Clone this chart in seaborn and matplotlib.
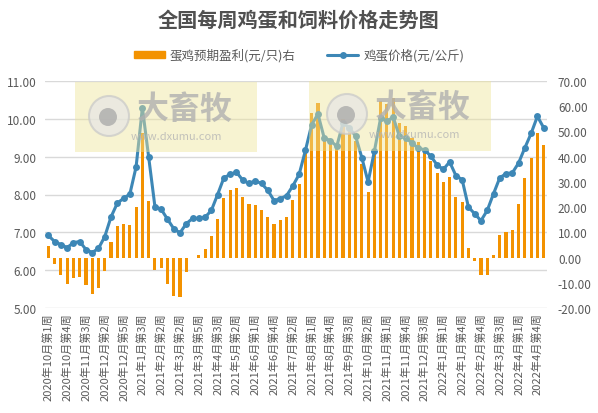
import numpy as np
import pandas as pd
import seaborn as sns
import matplotlib
matplotlib.use("Agg")
import matplotlib.pyplot as plt
from matplotlib.patches import Rectangle, Ellipse, Patch
from matplotlib.lines import Line2D

# (year, month, first week, last week)
months = [
    (2020, 10, 1, 4), (2020, 11, 1, 4), (2020, 12, 1, 5),
    (2021, 1, 1, 4), (2021, 2, 1, 3), (2021, 3, 1, 5), (2021, 4, 1, 4),
    (2021, 5, 1, 4), (2021, 6, 1, 5), (2021, 7, 1, 4), (2021, 8, 1, 4),
    (2021, 9, 1, 4), (2021, 10, 1, 4), (2021, 11, 1, 4), (2021, 12, 1, 5),
    (2022, 1, 1, 4), (2022, 2, 2, 4), (2022, 3, 1, 5), (2022, 4, 1, 4),
    (2022, 5, 1, 1),
]
weeks = [f"{y}年{m}月第{w}周" for y, m, a, b in months for w in range(a, b + 1)]

egg_price = [
    6.92, 6.76, 6.68, 6.60, 6.73, 6.76, 6.55, 6.47, 6.58, 6.89,
    7.41, 7.77, 7.90, 8.01, 8.73, 10.29, 8.99, 7.68, 7.61, 7.35,
    7.10, 6.99, 7.23, 7.37, 7.37, 7.40, 7.58, 8.00, 8.44, 8.53,
    8.59, 8.38, 8.29, 8.36, 8.29, 8.11, 7.84, 7.89, 7.97, 8.23,
    8.53, 9.16, 9.84, 10.12, 9.49, 9.42, 9.27, 9.89, 9.76, 9.54,
    8.97, 8.33, 9.14, 10.02, 9.93, 10.04, 9.53, 9.49, 9.36, 9.22,
    9.18, 9.01, 8.78, 8.66, 8.86, 8.50, 8.39, 7.67, 7.49, 7.31,
    7.58, 8.02, 8.44, 8.55, 8.57, 8.83, 9.23, 9.61, 10.06, 9.76,
]

hen_profit = [
    4.7, -2.4, -6.7, -10.3, -7.9, -7.5, -10.7, -14.2, -11.8, -5.1,
    6.3, 12.6, 13.3, 12.9, 20.1, 49.5, 22.4, -4.7, -3.9, -10.5,
    -15.0, -15.4, -5.5, 0.0, 1.2, 3.4, 8.7, 15.3, 23.7, 26.8,
    27.5, 24.0, 21.2, 20.8, 18.8, 16.1, 13.3, 14.9, 16.1, 22.9,
    29.1, 42.5, 57.1, 61.3, 47.1, 46.2, 44.9, 55.0, 52.1, 46.2,
    37.0, 25.8, 42.2, 62.0, 60.7, 63.3, 53.2, 51.9, 47.5, 45.8,
    41.9, 38.3, 33.4, 29.9, 31.9, 24.1, 22.1, 3.8, -1.3, -6.7,
    -6.7, 1.1, 9.1, 10.0, 10.9, 21.2, 31.5, 39.4, 49.2, 44.5,
]

df = pd.DataFrame({"week": weeks, "price": egg_price, "profit": hen_profit})
df["idx"] = np.arange(len(df))

sns.set_theme(style="white")
plt.rcParams["font.family"] = ["Noto Sans CJK SC", "DejaVu Sans"]
plt.rcParams["axes.unicode_minus"] = False

BAR = "#f39200"
LINE = "#3d87b6"
TXT = "#595959"

fig = plt.figure(figsize=(5.98, 4.14), dpi=100)
ax = fig.add_axes([45.2 / 598, 1 - 309.3 / 414, 501.6 / 598, 227.6 / 414])
ax2 = ax.twinx()

# bars on the bottom axis (right scale), line on top (left scale)
sns.barplot(data=df, x="week", y="profit", color=BAR, saturation=1,
            width=0.5, linewidth=0, ax=ax, zorder=2)
sns.lineplot(data=df, x="idx", y="price", color=LINE, lw=2.2, marker="o",
             markersize=5, markeredgewidth=0, ax=ax2, zorder=3)

ax.set_ylim(-20, 70)
ax2.set_ylim(5, 11)

ax.yaxis.tick_right()
ax2.yaxis.tick_left()
ax.set_yticks(np.arange(-20, 71, 10))
ax.set_yticklabels([f"{v:.2f}" for v in np.arange(-20, 71, 10)])
ax2.set_yticks(np.arange(5, 11.01, 1))
ax2.set_yticklabels([f"{v:.2f}" for v in np.arange(5, 11.01, 1)])

# grid follows the left axis ticks, drawn under the bars
for v in np.arange(5, 11.01, 1):
    ax.axhline(-20 + (v - 5) * 15, color="#d9d9d9", lw=1, zorder=0)

ax.set_xticks(np.arange(0, len(df), 3))
ax.set_xticklabels(weeks[::3], rotation=90)
ax.set_xlim(-0.5, len(df) - 0.5)

for a in (ax, ax2):
    a.set_xlabel("")
    a.set_ylabel("")
    for s in a.spines.values():
        s.set_visible(False)
    a.tick_params(length=0, colors=TXT)
ax.tick_params(axis="y", labelsize=8.5, pad=8)
ax2.tick_params(axis="y", labelsize=8.5, pad=6)
ax.tick_params(axis="x", labelsize=8, pad=3)
ax2.tick_params(axis="x", labelbottom=False)
ax2.patch.set_visible(False)

fig.text(0.5, 1 - 20 / 414, "全国每周鸡蛋和饲料价格走势图", ha="center",
         va="center", fontsize=14.5, fontweight="bold", color="#505050")

handles = [Patch(color=BAR),
           Line2D([], [], color=LINE, lw=2.2, marker="o", markersize=5,
                  markeredgewidth=0)]
fig.legend(handles, ["蛋鸡预期盈利(元/只)右", "鸡蛋价格(元/公斤)"], ncol=2,
           loc="center", bbox_to_anchor=(0.5, 1 - 56 / 414), frameon=False,
           fontsize=9, labelcolor=TXT, handlelength=2.5, handleheight=0.5,
           columnspacing=2.5, handletextpad=0.4)

# watermark boxes
W, H = 598, 414
for x0, x1, y0, y1, cx, cy in [(75, 257, 83, 153, 109, 117),
                               (309, 491, 82, 152, 347, 115)]:
    fig.add_artist(Rectangle((x0 / W, 1 - y1 / H), (x1 - x0) / W, (y1 - y0) / H,
                             transform=fig.transFigure, facecolor="#eee59a",
                             alpha=0.45, edgecolor="none", zorder=10))
    fig.add_artist(Ellipse((cx / W, 1 - cy / H), 40 / W, 40 / H,
                           transform=fig.transFigure, facecolor="#e6e6e6",
                           edgecolor="#c8c8c8", lw=1.5, alpha=0.7, zorder=11))
    fig.add_artist(Ellipse(((cx - 1) / W, 1 - (cy + 1) / H), 18 / W, 18 / H,
                           transform=fig.transFigure, facecolor="#a8a8a8",
                           edgecolor="none", alpha=0.75, zorder=12))
    fig.text((cx + 28) / W, 1 - (cy - 7) / H, "大畜牧", fontsize=23,
             fontweight="bold", color="#b0b0b0", alpha=0.8, va="center",
             zorder=12)
    fig.text((cx + 22) / W, 1 - (cy + 20) / H, "www.dxumu.com", fontsize=8,
             color="#b5b5b5", alpha=0.8, va="center", zorder=12)

fig.savefig("out.png", dpi=100)
